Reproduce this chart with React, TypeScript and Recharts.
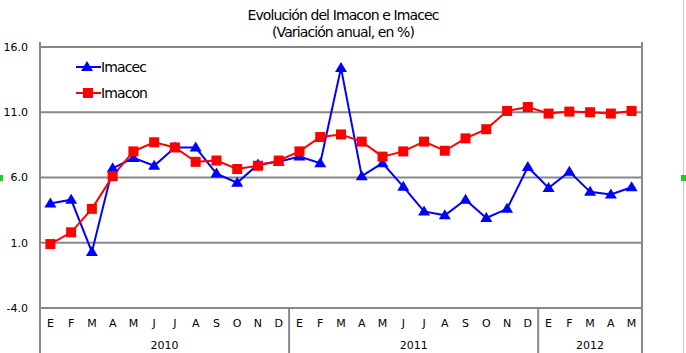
import { CartesianGrid, Line, LineChart, XAxis, YAxis } from "recharts";

// --- data ---
const months = ["E", "F", "M", "A", "M", "J", "J", "A", "S", "O", "N", "D"];
const years = [
  { year: "2010", count: 12 },
  { year: "2011", count: 12 },
  { year: "2012", count: 5 },
];
const imacec = [
  4.0, 4.3, 0.3, 6.7, 7.5, 6.9, 8.3, 8.3, 6.3, 5.6, 7.0, 7.2,
  7.6, 7.1, 14.4, 6.1, 7.1, 5.3, 3.4, 3.1, 4.3, 2.9, 3.6, 6.8,
  5.2, 6.45, 4.9, 4.7, 5.25,
];
const imacon = [
  0.9, 1.8, 3.6, 6.1, 8.0, 8.7, 8.3, 7.2, 7.3, 6.65, 6.9, 7.3,
  8.0, 9.1, 9.3, 8.75, 7.6, 8.0, 8.75, 8.05, 9.0, 9.7, 11.1, 11.4,
  10.9, 11.05, 11.0, 10.9, 11.1,
];
const yTicks = [-4, 1, 6, 11, 16];

const W = 686;
const H = 353;
const LEFT_W = 40;
const RIGHT_W = 44;
const M = { top: 47, right: 0, bottom: 0, left: 0 };
const PLOT_W = W - LEFT_W - RIGHT_W;
const PLOT_BOTTOM = 308;
const BLUE = "#0000ff";
const RED = "#ff0000";
const GRID = "#888888";

// year index helpers
const yearOf: string[] = [];
const groupStart: number[] = [];
years.forEach((g) => {
  const start = yearOf.length;
  for (let i = 0; i < g.count; i++) {
    yearOf.push(g.year);
    groupStart.push(start);
  }
});

const data = imacec.map((v, i) => ({
  m: `${i}`,
  month: months[i % 12],
  yr: yearOf[i],
  imacec: v,
  imacon: imacon[i],
}));
const BW = PLOT_W / data.length;
const PAD = { left: BW / 2, right: BW / 2 };

const MonthTick = (props: any) => {
  const { x, index } = props;
  return (
    <text x={x} y={327} textAnchor="middle" fontSize={11} fill="#000" fontFamily="DejaVu Sans">
      {data[index]?.month}
    </text>
  );
};

const YearTick = (props: any) => {
  const { x, index } = props;
  const start = groupStart[index];
  const g = years.find((y) => y.year === yearOf[index])!;
  const half = (g.count - 1) / 2;
  const mid = start + Math.floor(half);
  const parts = [];
  if (index === 0)
    parts.push(<line key="l" x1={x - BW / 2} x2={x - BW / 2} y1={M.top - 5} y2={H} stroke={GRID} strokeWidth={2} />);
  if (index === data.length - 1)
    parts.push(<line key="r" x1={x + BW / 2} x2={x + BW / 2} y1={M.top - 5} y2={H} stroke={GRID} strokeWidth={2} />);
  if (index === start && index > 0)
    parts.push(<line key="s" x1={x - BW / 2} x2={x - BW / 2} y1={PLOT_BOTTOM} y2={H} stroke={GRID} strokeWidth={2} />);
  if (index === mid)
    parts.push(
      <text key="t" x={x + (half - Math.floor(half)) * BW} y={349} textAnchor="middle" fontSize={11} fill="#000" fontFamily="DejaVu Sans">
        {g.year}
      </text>
    );
  return <g>{parts}</g>;
};

const Triangle = (props: any) => {
  const { cx, cy, index } = props;
  if (cx == null || cy == null) return <g key={index} />;
  return <path key={index} d={`M${cx},${cy - 6}L${cx + 6},${cy + 4}L${cx - 6},${cy + 4}Z`} fill={BLUE} />;
};

const Square = (props: any) => {
  const { cx, cy, index } = props;
  if (cx == null || cy == null) return <g key={index} />;
  return <rect key={index} x={cx - 5} y={cy - 5} width={10} height={10} fill={RED} />;
};

const legendItems = [
  { name: "Imacec", color: BLUE, marker: "tri" },
  { name: "Imacon", color: RED, marker: "sq" },
];

export default function App() {
  return (
    <div style={{ position: "absolute", left: 0, top: 0, width: W, height: H, background: "#fff", fontFamily: "DejaVu Sans" }}>
      {/* title */}
      <div style={{ position: "absolute", left: 0, width: W, top: 7, textAlign: "center", fontSize: 14, lineHeight: "17px", letterSpacing: -0.9, color: "#000" }}>
        Evolución del Imacon e Imacec
        <br />
        (Variación anual, en %)
      </div>

      <LineChart width={W} height={H} data={data} margin={M}>
        <CartesianGrid horizontal vertical={false} stroke={GRID} strokeWidth={2} yAxisId="l" xAxisId="m" />
        <XAxis xAxisId="m" dataKey="m" interval={0} padding={PAD} axisLine={false} tickLine={false} height={20} tick={<MonthTick />} />
        <XAxis xAxisId="y" dataKey="m" interval={0} padding={PAD} axisLine={false} tickLine={false} height={25} tick={<YearTick />} />
        <YAxis
          yAxisId="l"
          domain={[-4, 16]}
          ticks={yTicks}
          interval={0}
          tickFormatter={(v) => v.toFixed(1)}
          axisLine={false}
          tickLine={false}
          tickSize={0}
          tickMargin={12}
          width={LEFT_W}
          tick={{ fontSize: 11, fill: "#000", fontFamily: "DejaVu Sans" }}
        />
        <YAxis
          yAxisId="r"
          orientation="right"
          domain={[-4, 16]}
          ticks={yTicks}
          interval={0}
          tickFormatter={(v) => v.toFixed(1)}
          axisLine={false}
          tickLine={{ stroke: GRID, strokeWidth: 2 }}
          tickSize={5}
          tickMargin={10}
          width={RIGHT_W}
          tick={{ fontSize: 11, fill: "#000", fontFamily: "DejaVu Sans", textAnchor: "start" }}
        />
        <Line xAxisId="m" yAxisId="l" dataKey="imacec" stroke={BLUE} strokeWidth={2} dot={Triangle} isAnimationActive={false} />
        <Line xAxisId="m" yAxisId="l" dataKey="imacon" stroke={RED} strokeWidth={2} dot={Square} isAnimationActive={false} />
      </LineChart>

      {/* legend */}
      <div style={{ position: "absolute", left: 76, top: 54 }}>
        {legendItems.map((it) => (
          <div key={it.name} style={{ display: "flex", alignItems: "center", height: 26, fontSize: 14, letterSpacing: -0.9 }}>
            <svg width={25} height={14}>
              <line x1={0} x2={25} y1={7} y2={7} stroke={it.color} strokeWidth={2} />
              {it.marker === "tri" ? (
                <path d="M11,1L17,11L5,11Z" fill={it.color} />
              ) : (
                <rect x={7} y={2} width={10} height={10} fill={it.color} />
              )}
            </svg>
            <span style={{ color: "#000" }}>{it.name}</span>
          </div>
        ))}
      </div>

      {/* frame bits */}
      <div style={{ position: "absolute", left: 683, top: 0, width: 1, height: H, background: "#c8c8c8" }} />
      <div style={{ position: "absolute", left: 0, top: 175, width: 3, height: 6, background: "#22cc22" }} />
      <div style={{ position: "absolute", left: 681, top: 175, width: 5, height: 6, background: "#22cc22" }} />
    </div>
  );
}
